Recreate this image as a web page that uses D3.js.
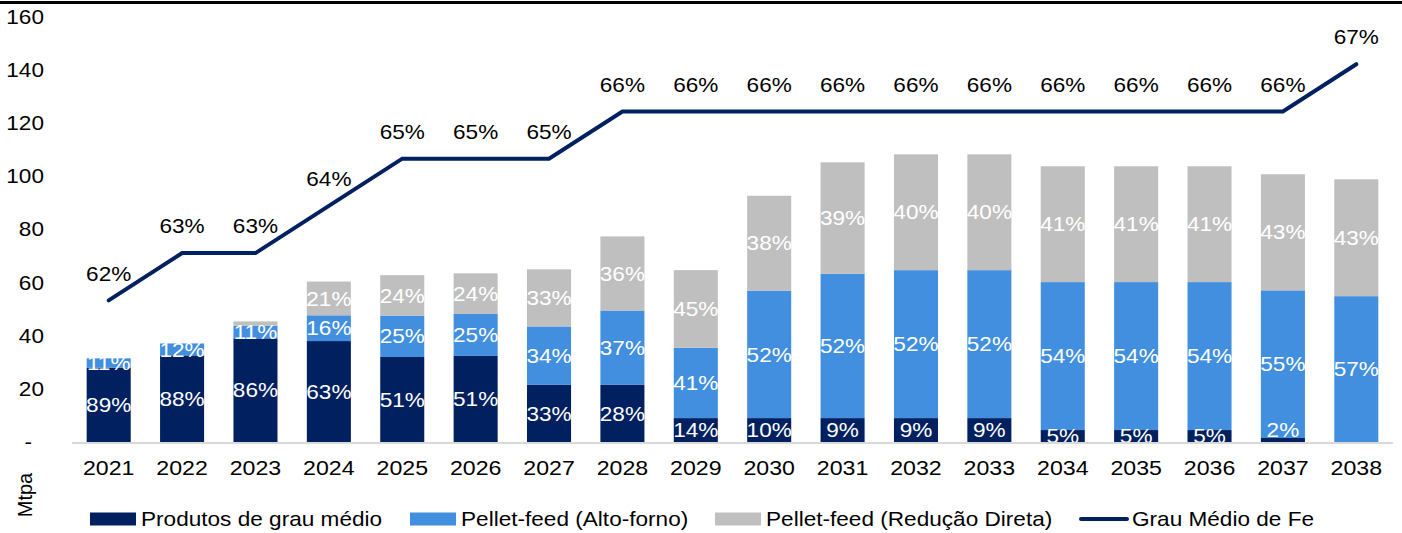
<!DOCTYPE html>
<html>
<head>
<meta charset="utf-8">
<script src="https://cdn.jsdelivr.net/npm/d3@7"></script>
<style>
  body { margin: 0; background: #fff; }
  text { font-family: 'Liberation Sans', Arial, sans-serif; }
</style>
</head>
<body>
<div id="chart"></div>
<script>
let years = ['2021', '2022', '2023', '2024', '2025', '2026', '2027', '2028', '2029',
  '2030', '2031', '2032', '2033', '2034', '2035', '2036', '2037', '2038']

// Mtpa per product
let grauMedio = [28, 32.6, 39, 38, 32, 32.4, 21.5, 21.5, 9, 9, 9, 9, 9, 4.5, 4.5, 4.5, 1.5, 0]
let altoForno = [3.5, 4.5, 4.8, 9.7, 15.6, 15.8, 22, 28, 26.5, 48, 54.3, 55.7, 55.7, 55.7, 55.7, 55.7, 55.6, 54.9]
let reducaoDireta = [0, 0, 1.6, 12.7, 15.2, 15.3, 21.5, 27.9, 29.2, 35.7, 42, 43.6, 43.6, 43.6, 43.6, 43.6, 43.7, 44]

// share labels printed inside the bars
let grauMedioLabels = ['89%', '88%', '86%', '63%', '51%', '51%', '33%', '28%', '14%', '10%', '9%', '9%', '9%', '5%', '5%', '5%', '2%', null]
let altoFornoLabels = ['11%', '12%', '11%', '16%', '25%', '25%', '34%', '37%', '41%', '52%', '52%', '52%', '52%', '54%', '54%', '54%', '55%', '57%']
let reducaoLabels = [null, null, null, '21%', '24%', '24%', '33%', '36%', '45%', '38%', '39%', '40%', '40%', '41%', '41%', '41%', '43%', '43%']

// average Fe grade (%)
let grauFe = [62, 63, 63, 64, 65, 65, 65, 66, 66, 66, 66, 66, 66, 66, 66, 66, 66, 67]

let yTicks = [0, 20, 40, 60, 80, 100, 120, 140, 160]

let seriesNames = ['Produtos de grau médio', 'Pellet-feed (Alto-forno)', 'Pellet-feed (Redução Direta)']
let colors = ['#002060', '#418FDE', '#BFBFBF']
let lineName = 'Grau Médio de Fe'

let width = 1402
let height = 533
let margin = { left: 72, right: 9, top: 17, bottom: 91 }
let fontSize = 20

// the source text is drawn a bit wider than plain Arial
function stretch(sel) {
  sel.each(function() {
    let t = d3.select(this)
    let x = +t.attr('x') || 0
    let y = +t.attr('y') || 0
    t.attr('x', 0)
      .attr('y', 0)
      .attr('transform', `translate(${x},${y}) scale(1.13,1)`)
  })
}

let svg = d3
  .select('#chart')
  .append('svg')
  .attr('width', width)
  .attr('height', height)

// black rule along the top edge
svg.append('rect')
  .attr('x', 0)
  .attr('y', 1)
  .attr('width', width)
  .attr('height', 3)
  .attr('fill', '#000')

let xScale = d3.scaleBand()
  .domain(years)
  .range([margin.left, width - margin.right])
  .paddingInner(0.4)
  .paddingOuter(0.2)

let yScale = d3.scaleLinear()
  .domain([0, 160])
  .range([height - margin.bottom, margin.top])

// hidden secondary axis for the Fe grade line
let y2Scale = d3.scaleLinear()
  .domain([59, 68])
  .range([height - margin.bottom, margin.top])

let table = years.map((y, i) => ({
  year: y,
  s0: grauMedio[i],
  s1: altoForno[i],
  s2: reducaoDireta[i],
  labels: [grauMedioLabels[i], altoFornoLabels[i], reducaoLabels[i]]
}))

let stack = d3.stack().keys(['s0', 's1', 's2'])
let stacked = stack(table)

svg.append('clipPath')
  .attr('id', 'plot-clip')
  .append('rect')
  .attr('x', 0)
  .attr('y', 0)
  .attr('width', width)
  .attr('height', yScale(0))

// y axis
let yAxis = svg.append('g')
  .attr('transform', `translate(${margin.left - 28},0)`)
  .call(d3.axisLeft(yScale).tickValues(yTicks).tickSize(0).tickFormat(d => d === 0 ? '-' : d))
yAxis.select('.domain').remove()
yAxis.selectAll('text')
  .attr('x', d => d === 0 ? -12 : 0)
  .attr('font-size', fontSize)
  .attr('font-family', "'Liberation Sans', Arial, sans-serif")
  .attr('fill', '#000')
  .call(stretch)

// bars
let layers = svg.selectAll('.layer')
  .data(stacked)
  .enter()
  .append('g')
  .attr('class', 'layer')
  .attr('fill', (d, i) => colors[i])

layers.selectAll('rect')
  .data(d => d)
  .enter()
  .append('rect')
  .attr('x', d => xScale(d.data.year))
  .attr('width', xScale.bandwidth())
  .attr('y', d => yScale(d[1]))
  .attr('height', d => yScale(d[0]) - yScale(d[1]))

// bar labels
let labelGroup = svg.append('g').attr('clip-path', 'url(#plot-clip)')
stacked.forEach((layer, k) => {
  labelGroup.selectAll('.lbl' + k)
    .data(layer.filter(d => d.data.labels[k]))
    .enter()
    .append('text')
    .attr('class', 'lbl' + k)
    .attr('x', d => xScale(d.data.year) + xScale.bandwidth() / 2)
    .attr('y', d => {
      let top = yScale(d[1])
      let bottom = yScale(d[0])
      let mid = (top + bottom) / 2
      if (bottom - top < 8) mid = Math.min(mid, yScale(0) - 12)
      return mid
    })
    .attr('dy', '0.36em')
    .attr('text-anchor', 'middle')
    .attr('font-size', fontSize)
    .attr('fill', '#fff')
    .text(d => d.data.labels[k])
    .call(stretch)
})

// baseline
svg.append('line')
  .attr('x1', margin.left)
  .attr('x2', width - margin.right)
  .attr('y1', yScale(0) + 1)
  .attr('y2', yScale(0) + 1)
  .attr('stroke', '#D9D9D9')
  .attr('stroke-width', 2)

// x axis labels
let xAxis = svg.append('g')
  .attr('transform', `translate(0,${yScale(0) + 15})`)
  .call(d3.axisBottom(xScale).tickSize(0))
xAxis.select('.domain').remove()
xAxis.selectAll('text')
  .attr('font-size', fontSize + 0.5)
  .attr('font-family', "'Liberation Sans', Arial, sans-serif")
  .attr('fill', '#000')
  .call(stretch)

// Fe grade line
let line = d3.line()
  .x((d, i) => xScale(years[i]) + xScale.bandwidth() / 2)
  .y(d => y2Scale(d))

svg.append('path')
  .datum(grauFe)
  .attr('d', line)
  .attr('fill', 'none')
  .attr('stroke', '#002060')
  .attr('stroke-width', 4)
  .attr('stroke-linecap', 'round')

svg.selectAll('.fe-label')
  .data(grauFe)
  .enter()
  .append('text')
  .attr('class', 'fe-label')
  .attr('x', (d, i) => xScale(years[i]) + xScale.bandwidth() / 2)
  .attr('y', d => y2Scale(d) - 27)
  .attr('dy', '0.36em')
  .attr('text-anchor', 'middle')
  .attr('font-size', fontSize)
  .attr('fill', '#000')
  .text(d => d + '%')
  .call(stretch)

// axis title
svg.append('text')
  .attr('transform', 'translate(32,495) rotate(-90)')
  .attr('text-anchor', 'middle')
  .attr('font-size', fontSize)
  .attr('fill', '#000')
  .text('Mtpa')

// legend
let legendX = [90, 410, 715, 1080]
let legendY = 519
let legend = svg.append('g')

seriesNames.forEach((name, i) => {
  legend.append('rect')
    .attr('x', legendX[i])
    .attr('y', legendY - 6.5)
    .attr('width', 46)
    .attr('height', 13)
    .attr('fill', colors[i])
  legend.append('text')
    .attr('x', legendX[i] + 51)
    .attr('y', legendY)
    .attr('dy', '0.36em')
    .attr('font-size', fontSize)
    .attr('fill', '#000')
    .text(name)
    .call(stretch)
})

legend.append('line')
  .attr('x1', legendX[3] + 1)
  .attr('x2', legendX[3] + 47)
  .attr('y1', legendY)
  .attr('y2', legendY)
  .attr('stroke', '#002060')
  .attr('stroke-width', 4)
  .attr('stroke-linecap', 'round')
legend.append('text')
  .attr('x', legendX[3] + 52)
  .attr('y', legendY)
  .attr('dy', '0.36em')
  .attr('font-size', fontSize)
  .attr('fill', '#000')
  .text(lineName)
  .call(stretch)
</script>
</body>
</html>
